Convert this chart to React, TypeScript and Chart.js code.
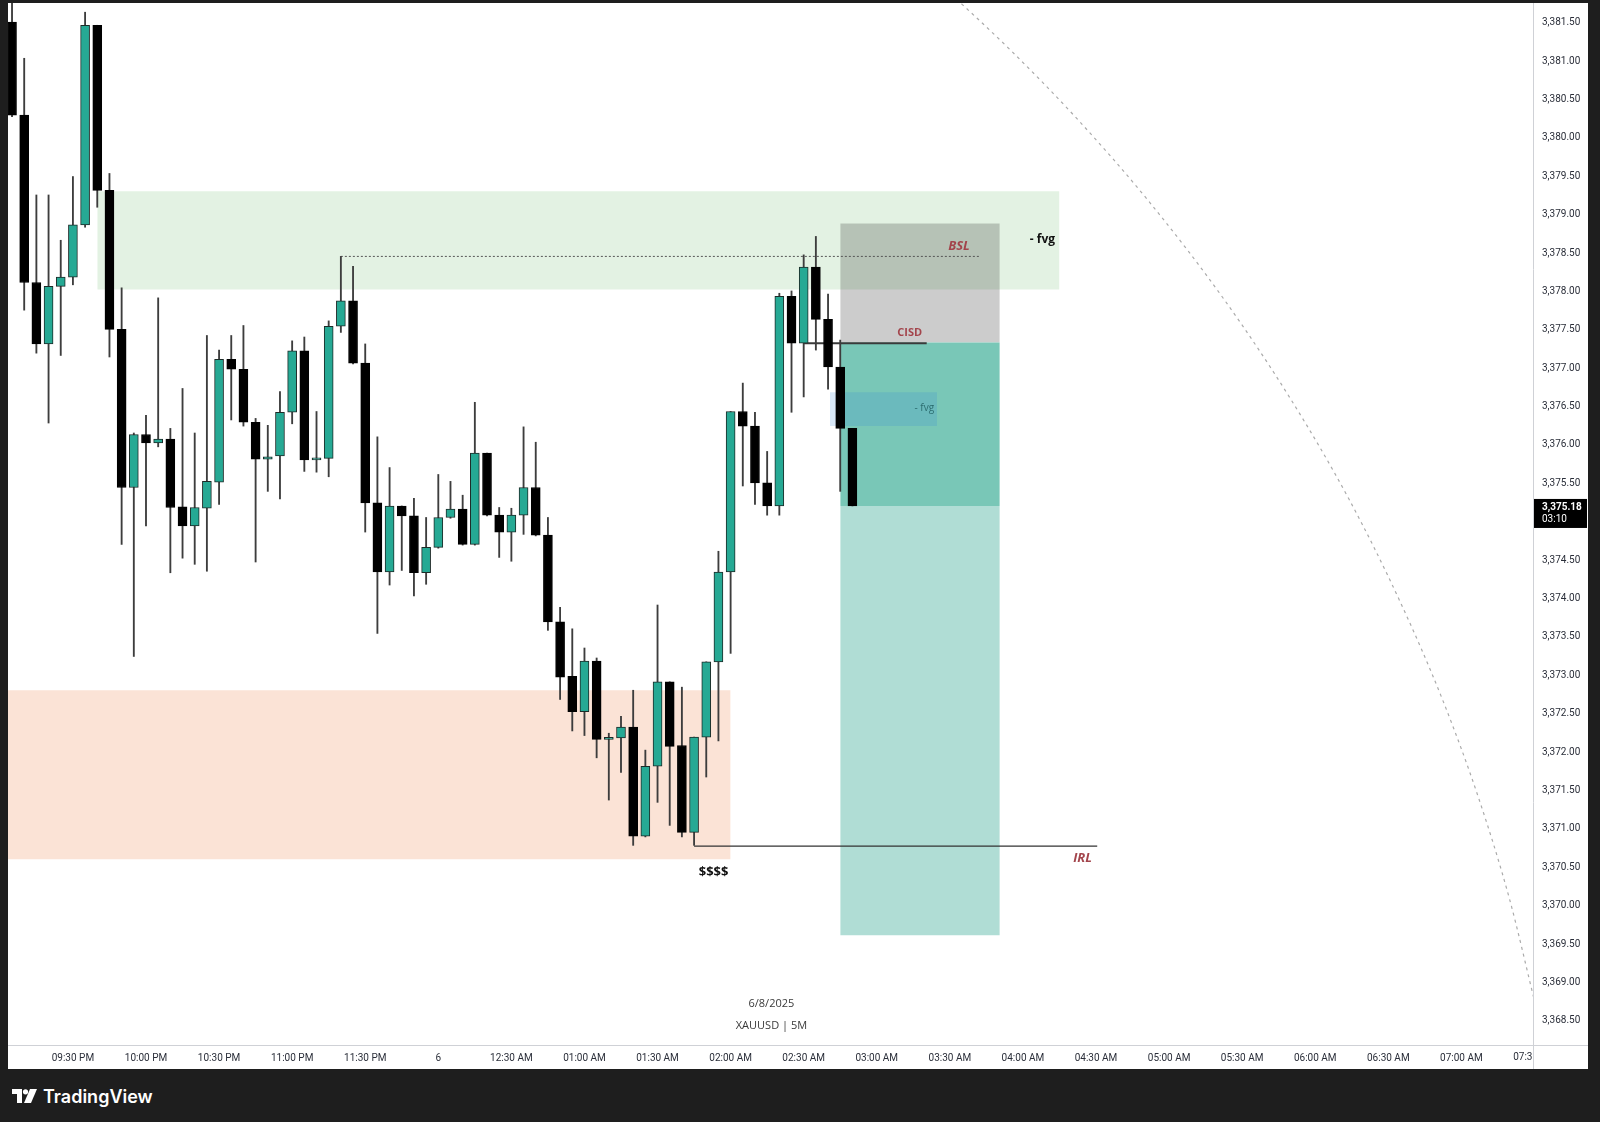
import React, { useEffect, useRef } from "react";
import { Chart, registerables } from "chart.js";

Chart.register(...registerables);

// ---- XAUUSD 5M candles (bar index 0 = 09:05 PM) ----
const opens = [
  3381.48, 3380.27, 3378.09, 3377.29, 3378.04, 3378.16, 3378.84, 3381.44, 3379.29, 3377.48,
  3375.42, 3376.11, 3376.0, 3376.05, 3375.17, 3374.92, 3375.15, 3375.49, 3377.09, 3376.96,
  3376.27, 3375.79, 3375.83, 3376.4, 3377.2, 3375.78, 3375.8, 3377.52, 3377.85, 3377.04,
  3375.22, 3374.32, 3375.18, 3375.05, 3374.31, 3374.64, 3375.03, 3375.14, 3374.68, 3375.87,
  3375.06, 3374.84, 3375.06, 3375.42, 3374.8, 3373.67, 3372.96, 3372.5, 3373.16, 3372.14,
  3372.16, 3372.3, 3370.88, 3371.79, 3372.89, 3372.06, 3370.93, 3372.17, 3373.15, 3374.32,
  3376.41, 3376.22, 3375.48, 3375.18, 3377.91, 3377.3, 3378.29, 3377.61, 3376.99, 3376.19,
];
const highs = [
  3381.85, 3381.01, 3379.23, 3379.23, 3378.64, 3379.47, 3381.61, 3381.44, 3379.51, 3378.02,
  3376.13, 3376.36, 3377.89, 3376.19, 3376.71, 3376.13, 3377.4, 3377.21, 3377.4, 3377.53,
  3376.32, 3376.23, 3376.67, 3377.33, 3377.38, 3376.41, 3377.59, 3378.43, 3378.3, 3377.29,
  3376.08, 3375.68, 3375.18, 3375.28, 3375.03, 3375.59, 3375.5, 3375.32, 3376.53, 3375.87,
  3375.16, 3375.15, 3376.21, 3376.01, 3375.03, 3373.86, 3373.58, 3373.33, 3373.2, 3372.22,
  3372.44, 3372.78, 3372.0, 3373.89, 3372.89, 3372.82, 3372.17, 3373.15, 3374.59, 3376.41,
  3376.78, 3376.4, 3375.89, 3377.95, 3377.98, 3378.45, 3378.69, 3377.94, 3377.34, 3376.19,
];
const lows = [
  3380.25, 3377.73, 3377.17, 3376.26, 3377.14, 3378.06, 3378.81, 3379.07, 3377.12, 3374.68,
  3373.22, 3374.92, 3375.95, 3374.31, 3374.5, 3374.42, 3374.33, 3375.2, 3376.3, 3376.22,
  3374.45, 3375.37, 3375.27, 3376.25, 3375.63, 3375.62, 3375.56, 3377.44, 3377.03, 3374.84,
  3373.52, 3374.15, 3374.34, 3374.01, 3374.16, 3374.63, 3375.02, 3374.67, 3374.67, 3375.05,
  3374.51, 3374.46, 3374.81, 3374.79, 3373.56, 3372.66, 3372.25, 3372.19, 3371.9, 3371.35,
  3371.71, 3370.76, 3370.87, 3371.32, 3371.02, 3370.87, 3370.76, 3371.65, 3372.12, 3373.26,
  3375.44, 3375.2, 3375.06, 3375.06, 3376.4, 3376.6, 3377.21, 3376.7, 3375.37, 3375.18,
];
const closes = [
  3380.27, 3378.09, 3377.29, 3378.04, 3378.16, 3378.84, 3381.44, 3379.29, 3377.48, 3375.42,
  3376.11, 3376.0, 3376.05, 3375.16, 3374.92, 3375.16, 3375.5, 3377.09, 3376.96, 3376.27,
  3375.79, 3375.82, 3376.4, 3377.2, 3375.78, 3375.8, 3377.52, 3377.85, 3377.04, 3375.22,
  3374.32, 3375.18, 3375.05, 3374.31, 3374.64, 3375.03, 3375.14, 3374.68, 3375.87, 3375.06,
  3374.84, 3375.06, 3375.42, 3374.8, 3373.67, 3372.95, 3372.5, 3373.16, 3372.14, 3372.16,
  3372.3, 3370.88, 3371.79, 3372.89, 3372.05, 3370.93, 3372.17, 3373.15, 3374.32, 3376.41,
  3376.22, 3375.48, 3375.18, 3377.91, 3377.3, 3378.29, 3377.61, 3376.99, 3376.19, 3375.18,
];

// ---- axes ----
const priceTicks = [
  3368.5, 3369.0, 3369.5, 3370.0, 3370.5, 3371.0, 3371.5, 3372.0, 3372.5, 3373.0, 3373.5,
  3374.0, 3374.5, 3375.0, 3375.5, 3376.0, 3376.5, 3377.0, 3377.5, 3378.0, 3378.5, 3379.0,
  3379.5, 3380.0, 3380.5, 3381.0, 3381.5,
];
const priceTickLabels = [
  "3,368.50", "3,369.00", "3,369.50", "3,370.00", "3,370.50", "3,371.00", "3,371.50",
  "3,372.00", "3,372.50", "3,373.00", "3,373.50", "3,374.00", "3,374.50", "3,375.00",
  "3,375.50", "3,376.00", "3,376.50", "3,377.00", "3,377.50", "3,378.00", "3,378.50",
  "3,379.00", "3,379.50", "3,380.00", "3,380.50", "3,381.00", "3,381.50",
];
const timeTickIndex = [5, 11, 17, 23, 29, 35, 41, 47, 53, 59, 65, 71, 77, 83, 89, 95, 101, 107, 113, 119];
const timeTickLabels = [
  "09:30 PM", "10:00 PM", "10:30 PM", "11:00 PM", "11:30 PM", "6", "12:30 AM", "01:00 AM",
  "01:30 AM", "02:00 AM", "02:30 AM", "03:00 AM", "03:30 AM", "04:00 AM", "04:30 AM",
  "05:00 AM", "05:30 AM", "06:00 AM", "06:30 AM", "07:00 AM",
];
const clippedTimeTick = { index: 125, label: "07:30 AM" };
const countdownLabel = "03:10";
const lastPriceLabel = "3,375.18";

// ---- drawings: [startIndex, endIndex, topPrice, bottomPrice] ----
const greenZone = [7, 86, 3379.28, 3378.0];
const peachZone = [-1, 59, 3372.78, 3370.58];
const stopBox = [68, 81.1, 3378.86, 3377.31];
const entryBox = [68, 81.1, 3377.31, 3375.18];
const targetBox = [68, 81.1, 3375.18, 3369.59];
const fvgBox = [67.15, 75.95, 3376.66, 3376.22];

// ---- lines: [startIndex, endIndex, price] ----
const bslLine = [27, 79.5, 3378.43];
const cisdLine = [65, 75.1, 3377.3];
const irlLine = [56, 89.1, 3370.75];

// ---- dashed arc ----
const arcIndex = [75.85, 82.02, 87.57, 93.27, 99.56, 105.03, 109.8, 113.92, 117.47, 120.47, 122.97, 124.98];
const arcPrice = [3382.03, 3381.11, 3380.2, 3379.16, 3377.86, 3376.56, 3375.26, 3373.95, 3372.65, 3371.35, 3370.05, 3368.75];

// ---- text notes ----
const noteTexts = ["BSL", "- fvg", "CISD", "- fvg", "IRL", "$$$$", "6/8/2025", "XAUUSD | 5M"];
const noteIndex = [77.75, 84.6, 73.7, 74.9, 87.9, 57.6, 62.35, 62.35];
const notePrice = [3378.56, 3378.65, 3377.43, 3376.45, 3370.59, 3370.41, 3368.69, 3368.41];
const noteStyle = [
  { font: 'italic bold 13px "Open Sans"', color: "#a3454c" },
  { font: 'bold 12px "Open Sans"', color: "#111111" },
  { font: 'bold 11px "Open Sans"', color: "#a3454c" },
  { font: '10px "Open Sans"', color: "#2c6d70" },
  { font: 'italic bold 13px "Open Sans"', color: "#a3454c" },
  { font: 'bold 13px "Open Sans"', color: "#111111" },
  { font: '11px "Open Sans"', color: "#3a3a3a" },
  { font: '11px "Open Sans"', color: "#3a3a3a" },
];

const TEAL = "#26a994";
const AXIS_FONT = { family: "Roboto", size: 10 };

function boxDataset(b: number[], color: string, order: number) {
  return {
    type: "line" as const,
    data: [
      { x: b[0], y: b[2] },
      { x: b[1], y: b[2] },
    ],
    fill: { value: b[3] },
    backgroundColor: color,
    borderWidth: 0,
    pointRadius: 0,
    order,
  };
}

function lineDataset(l: number[], color: string, width: number, dash: number[], order: number) {
  return {
    type: "line" as const,
    data: [
      { x: l[0], y: l[2] },
      { x: l[1], y: l[2] },
    ],
    fill: false,
    borderColor: color,
    borderWidth: width,
    borderDash: dash,
    pointRadius: 0,
    order,
  };
}

const overlayPlugin = {
  id: "overlay",
  afterDatasetsDraw(chart: any) {
    const { ctx, chartArea, scales } = chart;
    ctx.save();
    ctx.beginPath();
    ctx.rect(chartArea.left, chartArea.top, chartArea.right - chartArea.left, chartArea.bottom - chartArea.top);
    ctx.clip();
    ctx.textAlign = "center";
    ctx.textBaseline = "middle";
    noteTexts.forEach((t, i) => {
      ctx.font = noteStyle[i].font;
      ctx.fillStyle = noteStyle[i].color;
      ctx.fillText(t, scales.x.getPixelForValue(noteIndex[i]), scales.y.getPixelForValue(notePrice[i]));
    });
    ctx.restore();
  },
  afterDraw(chart: any) {
    const { ctx, chartArea, scales, width, height } = chart;
    ctx.save();
    ctx.save();
    ctx.beginPath();
    ctx.rect(0, chartArea.bottom, chartArea.right, height - chartArea.bottom);
    ctx.clip();
    ctx.font = "10px Roboto";
    ctx.fillStyle = "#2a2e39";
    ctx.textAlign = "center";
    ctx.textBaseline = "top";
    ctx.fillText(clippedTimeTick.label, scales.x.getPixelForValue(clippedTimeTick.index), chartArea.bottom + 7);
    ctx.restore();
    ctx.strokeStyle = "#cfd1d6";
    ctx.lineWidth = 1;
    ctx.beginPath();
    ctx.moveTo(0, Math.round(chartArea.bottom) + 0.5);
    ctx.lineTo(width, Math.round(chartArea.bottom) + 0.5);
    ctx.moveTo(Math.round(chartArea.right) + 0.5, 0);
    ctx.lineTo(Math.round(chartArea.right) + 0.5, height);
    ctx.stroke();
    const y = scales.y.getPixelForValue(closes[closes.length - 1]);
    const x0 = Math.round(chartArea.right) + 1;
    ctx.fillStyle = "#000000";
    ctx.fillRect(x0, y - 7, width - x0 - 1, 29);
    ctx.fillStyle = "#ffffff";
    ctx.font = "bold 10px Roboto";
    ctx.textAlign = "left";
    ctx.textBaseline = "middle";
    ctx.fillText(lastPriceLabel, x0 + 8, y + 2);
    ctx.font = "10px Roboto";
    ctx.fillText(countdownLabel, x0 + 8, y + 14);
    ctx.restore();
  },
};

export default function App() {
  const ref = useRef<HTMLCanvasElement>(null);

  useEffect(() => {
    const idx = opens.map((_, i) => i);
    const bull = idx.map((i) => closes[i] >= opens[i]);
    const chart = new Chart(ref.current as HTMLCanvasElement, {
      type: "bar",
      data: {
        datasets: [
          boxDataset(greenZone, "rgba(222,240,222,0.85)", 100),
          boxDataset(peachZone, "#fbe3d6", 99),
          boxDataset(stopBox, "rgba(0,0,0,0.2)", 98),
          boxDataset(entryBox, "#79c7b7", 97),
          boxDataset(targetBox, "#b0ddd5", 96),
          boxDataset(fvgBox, "rgba(45,125,215,0.18)", 95),
          lineDataset(bslLine, "#555555", 1, [2, 2], 50),
          lineDataset(cisdLine, "#3a3a3a", 2, [], 50),
          lineDataset(irlLine, "#333333", 1.2, [], 50),
          {
            type: "line" as const,
            data: arcIndex.map((x, i) => ({ x, y: arcPrice[i] })),
            fill: false,
            borderColor: "#ababab",
            borderWidth: 1.2,
            borderDash: [3, 4],
            pointRadius: 0,
            tension: 0.4,
            cubicInterpolationMode: "monotone" as const,
            order: 49,
          },
          {
            type: "bar" as const,
            data: idx.map((i) => ({ x: i, y: [lows[i], highs[i]] })),
            backgroundColor: "#3d3d3d",
            borderWidth: 0,
            barThickness: 1.2,
            grouped: false,
            order: 2,
          },
          {
            type: "bar" as const,
            data: idx.map((i) => ({ x: i, y: [Math.min(opens[i], closes[i]), Math.max(opens[i], closes[i])] })),
            backgroundColor: idx.map((i) => (bull[i] ? TEAL : "#000000")),
            borderColor: idx.map((i) => (bull[i] ? "#1d2b28" : "#000000")),
            borderWidth: 1,
            borderSkipped: false,
            barThickness: 9,
            minBarLength: 2,
            grouped: false,
            order: 1,
          },
        ] as any,
      },
      options: {
        responsive: false,
        animation: false,
        events: [],
        layout: { padding: 0 },
        plugins: { legend: { display: false }, tooltip: { enabled: false } },
        scales: {
          x: {
            type: "linear",
            min: -0.33,
            max: 124.88,
            offset: false,
            grid: { display: false, drawTicks: false },
            border: { display: false },
            ticks: {
              autoSkip: false,
              maxRotation: 0,
              padding: 7,
              color: "#2a2e39",
              font: AXIS_FONT,
              callback: (v: any) => {
                const k = timeTickIndex.indexOf(Number(v));
                return k >= 0 ? timeTickLabels[k] : "";
              },
            },
            afterBuildTicks: (scale: any) => {
              scale.ticks = timeTickIndex.map((v) => ({ value: v }));
            },
            afterFit: (scale: any) => {
              scale.height = 24;
              scale.paddingLeft = 0;
              scale.paddingRight = 0;
            },
          },
          y: {
            type: "linear",
            position: "right",
            min: 3368.16,
            max: 3381.73,
            grid: { display: false, drawTicks: false },
            border: { display: false },
            ticks: {
              padding: 9,
              labelOffset: 2,
              color: "#2a2e39",
              font: AXIS_FONT,
              callback: (v: any) => {
                const k = priceTicks.indexOf(Number(v));
                return k >= 0 ? priceTickLabels[k] : "";
              },
            },
            afterBuildTicks: (scale: any) => {
              scale.ticks = priceTicks.map((v) => ({ value: v }));
            },
            afterFit: (scale: any) => {
              scale.width = 55;
              scale.paddingTop = 0;
              scale.paddingBottom = 0;
            },
          },
        },
      } as any,
      plugins: [overlayPlugin],
    });
    return () => chart.destroy();
  }, []);

  return (
    <div
      style={{
        position: "fixed",
        left: 0,
        top: 0,
        width: 1600,
        height: 1122,
        background: "#1e1e1e",
        overflow: "hidden",
      }}
    >
      <canvas
        ref={ref}
        width={1580}
        height={1066}
        style={{ position: "absolute", left: 8, top: 3, width: 1580, height: 1066, background: "#ffffff" }}
      />
      <div
        style={{
          position: "absolute",
          left: 12,
          top: 1084,
          height: 24,
          display: "flex",
          alignItems: "center",
          gap: 6,
          color: "#ffffff",
          fontFamily: "Inter, 'Noto Sans', sans-serif",
          fontSize: 18,
          fontWeight: 600,
        }}
      >
        <svg width="25" height="14" viewBox="0 0 25 14">
          <path d="M0 0 H10 V14 H5 V5 H0 Z" fill="#ffffff" />
          <circle cx="13.5" cy="2.8" r="2.6" fill="#ffffff" />
          <path d="M18 0 H25 L19 14 H12 Z" fill="#ffffff" />
        </svg>
        <span>TradingView</span>
      </div>
    </div>
  );
}
